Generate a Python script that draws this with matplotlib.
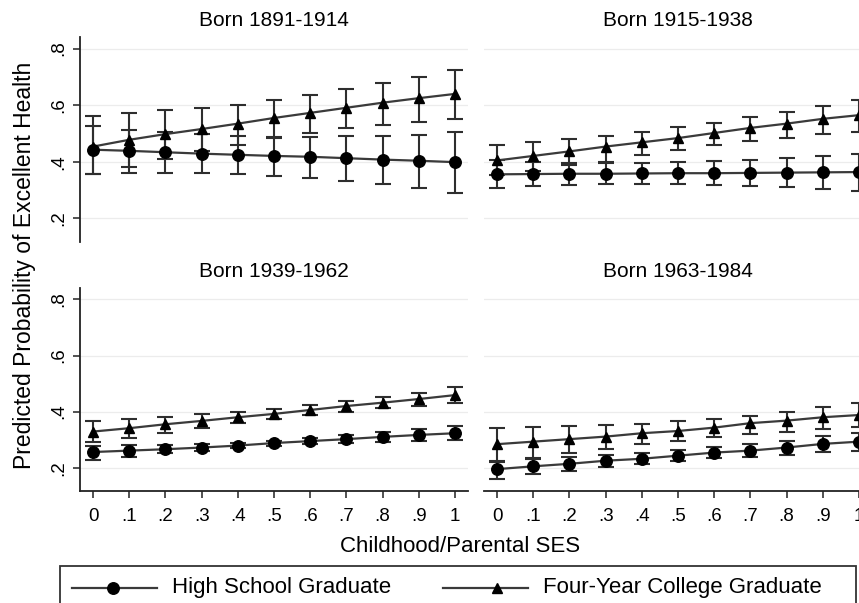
import matplotlib
matplotlib.use("Agg")
import matplotlib.pyplot as plt
from matplotlib.lines import Line2D
from matplotlib.patches import Rectangle

plt.rcParams['font.family'] = ['Liberation Sans', 'DejaVu Sans']

# Childhood/parental SES grid
ses = [0.0, 0.1, 0.2, 0.3, 0.4, 0.5, 0.6, 0.7, 0.8, 0.9, 1.0]
ses_labels = ["0", ".1", ".2", ".3", ".4", ".5", ".6", ".7", ".8", ".9", "1"]
prob_ticks = [0.2, 0.4, 0.6, 0.8]
prob_labels = [".2", ".4", ".6", ".8"]

cohorts = ["Born 1891-1914", "Born 1915-1938", "Born 1939-1962", "Born 1963-1984"]
series_names = ["High School Graduate", "Four-Year College Graduate"]

# Predicted probabilities with 95% confidence bounds
hs_1891 = [0.443, 0.439, 0.434, 0.429, 0.425, 0.421, 0.418, 0.413, 0.408, 0.404, 0.399]
hs_1891_lo = [0.357, 0.362, 0.362, 0.362, 0.356, 0.350, 0.342, 0.333, 0.321, 0.307, 0.291]
hs_1891_hi = [0.525, 0.514, 0.505, 0.497, 0.492, 0.488, 0.488, 0.490, 0.492, 0.496, 0.504]
col_1891 = [0.454, 0.478, 0.498, 0.516, 0.535, 0.555, 0.573, 0.591, 0.609, 0.625, 0.640]
col_1891_lo = [0.356, 0.381, 0.410, 0.437, 0.458, 0.484, 0.502, 0.520, 0.531, 0.541, 0.553]
col_1891_hi = [0.563, 0.573, 0.582, 0.591, 0.602, 0.620, 0.636, 0.656, 0.680, 0.701, 0.724]

hs_1915 = [0.356, 0.357, 0.358, 0.358, 0.359, 0.360, 0.360, 0.361, 0.362, 0.363, 0.364]
hs_1915_lo = [0.309, 0.315, 0.318, 0.321, 0.322, 0.321, 0.318, 0.316, 0.313, 0.303, 0.298]
hs_1915_hi = [0.405, 0.400, 0.397, 0.395, 0.395, 0.398, 0.402, 0.407, 0.412, 0.420, 0.428]
col_1915 = [0.405, 0.421, 0.437, 0.454, 0.469, 0.484, 0.502, 0.520, 0.535, 0.552, 0.565]
col_1915_lo = [0.352, 0.366, 0.389, 0.401, 0.425, 0.443, 0.458, 0.472, 0.484, 0.497, 0.505]
col_1915_hi = [0.460, 0.470, 0.481, 0.493, 0.505, 0.522, 0.537, 0.557, 0.577, 0.596, 0.620]

hs_1939 = [0.256, 0.261, 0.266, 0.272, 0.279, 0.288, 0.295, 0.302, 0.310, 0.317, 0.323]
hs_1939_lo = [0.228, 0.240, 0.252, 0.261, 0.270, 0.279, 0.284, 0.288, 0.293, 0.296, 0.298]
hs_1939_hi = [0.279, 0.281, 0.281, 0.283, 0.288, 0.297, 0.306, 0.317, 0.328, 0.338, 0.349]
col_1939 = [0.329, 0.341, 0.355, 0.367, 0.380, 0.392, 0.406, 0.420, 0.432, 0.445, 0.459]
col_1939_lo = [0.290, 0.305, 0.323, 0.341, 0.359, 0.374, 0.388, 0.400, 0.412, 0.421, 0.432]
col_1939_hi = [0.367, 0.374, 0.382, 0.391, 0.400, 0.408, 0.423, 0.438, 0.453, 0.468, 0.487]

hs_1963 = [0.195, 0.205, 0.214, 0.225, 0.232, 0.243, 0.254, 0.261, 0.272, 0.285, 0.293]
hs_1963_lo = [0.161, 0.176, 0.189, 0.203, 0.212, 0.223, 0.234, 0.239, 0.247, 0.257, 0.261]
hs_1963_hi = [0.225, 0.232, 0.239, 0.247, 0.252, 0.263, 0.274, 0.283, 0.297, 0.313, 0.325]
col_1963 = [0.284, 0.293, 0.302, 0.311, 0.323, 0.331, 0.343, 0.359, 0.368, 0.380, 0.388]
col_1963_lo = [0.222, 0.234, 0.252, 0.266, 0.284, 0.296, 0.311, 0.321, 0.329, 0.339, 0.347]
col_1963_hi = [0.341, 0.344, 0.349, 0.353, 0.356, 0.365, 0.373, 0.385, 0.398, 0.416, 0.432]

panels = [
    (hs_1891, hs_1891_lo, hs_1891_hi, col_1891, col_1891_lo, col_1891_hi),
    (hs_1915, hs_1915_lo, hs_1915_hi, col_1915, col_1915_lo, col_1915_hi),
    (hs_1939, hs_1939_lo, hs_1939_hi, col_1939, col_1939_lo, col_1939_hi),
    (hs_1963, hs_1963_lo, hs_1963_hi, col_1963, col_1963_lo, col_1963_hi),
]

W, H = 859, 603
fig = plt.figure(figsize=(W / 100, H / 100), dpi=100)
fig.patch.set_facecolor("white")


def px_rect(x0, y0, x1, y1):
    return [x0 / W, 1 - y1 / H, (x1 - x0) / W, (y1 - y0) / H]


def fx(x):
    return x / W


def fy(y):
    return 1 - y / H


# panel boxes in pixel space: (left, top, right, bottom)
boxes = [(80, 37, 468, 242), (484, 37, 872, 242),
         (80, 288, 468, 491), (484, 288, 872, 491)]

LINE = "#3a3a3a"
for i, (box, data) in enumerate(zip(boxes, panels)):
    ax = fig.add_axes(px_rect(*box))
    ax.set_xlim(-0.036, 1.036)
    ax.set_ylim(0.117, 0.841)
    for v in prob_ticks:
        ax.axhline(v, color="#ececec", lw=0.9, zorder=0)
    hs, hs_lo, hs_hi, col, col_lo, col_hi = data
    for y, lo, hi, mk, ms in [(hs, hs_lo, hs_hi, "o", 8.3), (col, col_lo, col_hi, "^", 7.3)]:
        yerr = [[a - b for a, b in zip(y, lo)], [b - a for a, b in zip(y, hi)]]
        ax.errorbar(ses, y, yerr=yerr, fmt="none", ecolor="#2e2e2e",
                    elinewidth=1.5, capsize=5.5, capthick=1.5, zorder=2)
        ax.plot(ses, y, color=LINE, lw=1.6, zorder=3)
        ax.plot(ses, y, linestyle="none", marker=mk, ms=ms, color="black", zorder=4)

    for s in ["top", "right"]:
        ax.spines[s].set_visible(False)
    left_col = i in (0, 2)
    bottom_row = i in (2, 3)
    ax.spines["left"].set_visible(left_col)
    ax.spines["bottom"].set_visible(bottom_row)
    for s in ["left", "bottom"]:
        ax.spines[s].set_linewidth(1.3)
        ax.spines[s].set_color("#222222")

    ax.set_yticks(prob_ticks)
    if left_col:
        ax.set_yticklabels(prob_labels, rotation=90, va="center", fontsize=13.5)
        ax.tick_params(axis="y", length=5, width=1.1, color="#222222", pad=4)
    else:
        ax.tick_params(axis="y", left=False, labelleft=False)
    ax.set_xticks(ses)
    if bottom_row:
        ax.set_xticklabels(ses_labels, fontsize=13.5)
        ax.tick_params(axis="x", length=5, width=1.1, color="#222222", pad=7)
    else:
        ax.tick_params(axis="x", bottom=False, labelbottom=False)

    cx = (box[0] + box[2]) / 2 if left_col else 678
    ty = 20 if i < 2 else 272
    fig.text(fx(cx), fy(ty), cohorts[i], ha="center", va="center", fontsize=15)

fig.text(fx(25), fy(265), "Predicted Probability of Excellent Health",
         rotation=90, ha="center", va="center", fontsize=16.5)
fig.text(fx(460), fy(547), "Childhood/Parental SES", ha="center", va="center", fontsize=16)

# legend frame running off the lower edge
fig.patches.append(Rectangle((fx(60), -0.05), fx(856) - fx(60), 0.05 + fy(566),
                             transform=fig.transFigure, facecolor="white",
                             edgecolor="#333333", lw=1.3))
legend_keys = [((72, 157), 113, "o", 8.3, 172), ((443, 528), 497, "^", 7.3, 543)]
for (x0, x1), xm, mk, ms, xt in legend_keys:
    idx = legend_keys.index(((x0, x1), xm, mk, ms, xt))
    fig.add_artist(Line2D([fx(x0), fx(x1)], [fy(588), fy(588)], color=LINE, lw=1.6,
                          transform=fig.transFigure))
    fig.add_artist(Line2D([fx(xm)], [fy(588)], linestyle="none", marker=mk, ms=ms,
                          color="black", transform=fig.transFigure))
    fig.text(fx(xt), fy(588), series_names[idx], ha="left", va="center", fontsize=16)

fig.savefig("out.png", dpi=100, facecolor="white")
